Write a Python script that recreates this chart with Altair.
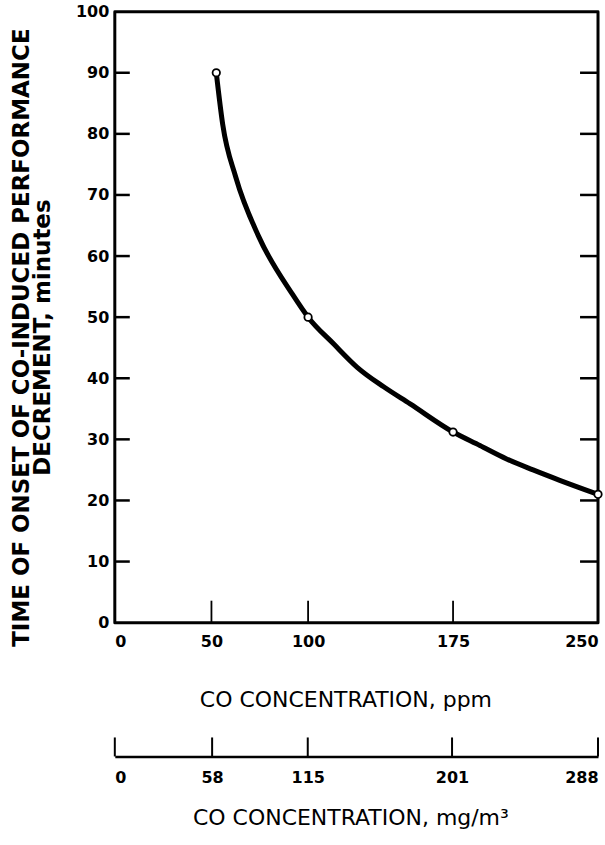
import altair as alt
import pandas as pd

# Measured onset times (minutes) at each CO concentration (ppm)
ppm = [52.5, 100, 175, 250]
onset_minutes = [90, 50, 31.2, 21]

# Smooth fitted curve through the measurements, traced along its length
curve_ppm = [52.5, 55.8, 62.6, 74.6, 91.8, 100, 113.3, 125.4, 139.1, 152.8,
             175, 188.9, 202.7, 216.4, 230.2, 250]
curve_minutes = [90, 81.6, 72.9, 63.1, 53.8, 50, 45.6, 41.8, 38.6, 35.8,
                 31.2, 29.0, 26.8, 25.0, 23.3, 21]

# Axis tick values
ppm_ticks = [0, 50, 100, 175, 250]
minute_ticks = [0, 10, 20, 30, 40, 50, 60, 70, 80, 90, 100]
inner_minute_ticks = [10, 20, 30, 40, 50, 60, 70, 80, 90]
inner_ppm_ticks = [50, 100, 175]
mg_ticks = [0, 58, 115, 201, 288]

W, H = 484, 612
FONT = "DejaVu Sans"

points_df = pd.DataFrame({"ppm": ppm, "minutes": onset_minutes})
curve_df = pd.DataFrame({"ppm": curve_ppm, "minutes": curve_minutes})
ytick_df = pd.DataFrame({"minutes": inner_minute_ticks})
xtick_df = pd.DataFrame({"ppm": inner_ppm_ticks})
mg_df = pd.DataFrame({"mg": mg_ticks})

x_scale = alt.Scale(domain=[0, 250], nice=False, zero=False)
y_scale = alt.Scale(domain=[0, 100], nice=False, zero=False)

x_axis = alt.Axis(
    values=ppm_ticks, title="CO CONCENTRATION, ppm", grid=False, domain=False,
    ticks=False, labelFont=FONT, labelFontSize=16, labelFontWeight="bold",
    labelColor="black", labelPadding=11, labelFlush=True,
    titleFont=FONT, titleFontSize=22, titleFontWeight="normal", titleColor="black",
    titlePadding=40, titleX=231,
)
y_axis = alt.Axis(
    values=minute_ticks,
    title=["TIME OF ONSET OF CO-INDUCED PERFORMANCE", "DECREMENT, minutes"],
    grid=False, domain=False, ticks=False, labelFont=FONT, labelFontSize=16,
    labelFontWeight="bold", labelColor="black", labelPadding=6,
    titleFont=FONT, titleFontSize=23, titleFontWeight="bold", titleColor="black",
    titleLineHeight=21, titlePadding=21, titleY=326,
)

curve = alt.Chart(curve_df).mark_line(
    interpolate="monotone", color="black", strokeWidth=5,
    strokeJoin="round", clip=True,
).encode(
    x=alt.X("ppm:Q", scale=x_scale, axis=x_axis),
    y=alt.Y("minutes:Q", scale=y_scale, axis=y_axis),
)

points = alt.Chart(points_df).mark_circle(
    size=55, fill="white", stroke="black", strokeWidth=1.8, strokeJoin="round",
    opacity=1,
).encode(
    x=alt.X("ppm:Q", scale=x_scale),
    y=alt.Y("minutes:Q", scale=y_scale),
)

# inward ticks on the left and right frame edges
left_ticks = alt.Chart(ytick_df).mark_rule(
    color="black", strokeWidth=2.5, strokeJoin="round"
).encode(y=alt.Y("minutes:Q", scale=y_scale), x=alt.value(0), x2=alt.value(15))
right_ticks = alt.Chart(ytick_df).mark_rule(
    color="black", strokeWidth=2.5, strokeJoin="round"
).encode(y=alt.Y("minutes:Q", scale=y_scale), x=alt.value(W - 18), x2=alt.value(W))
# inward ticks on the bottom edge
bottom_ticks = alt.Chart(xtick_df).mark_rule(
    color="black", strokeWidth=1.8, strokeJoin="round"
).encode(x=alt.X("ppm:Q", scale=x_scale), y=alt.value(H - 22), y2=alt.value(H))

main = alt.layer(curve, left_ticks, right_ticks, bottom_ticks, points).properties(
    width=W, height=H,
    view=alt.ViewBackground(stroke="black", strokeWidth=3, strokeJoin="round"),
)

# secondary concentration scale in mg/m3
mg_chart = alt.Chart(mg_df).mark_rule(
    color="black", strokeWidth=2, strokeJoin="round"
).encode(
    x=alt.X(
        "mg:Q",
        scale=alt.Scale(domain=[0, 288], nice=False, zero=False),
        axis=alt.Axis(
            values=mg_ticks, title="CO CONCENTRATION, mg/m³", grid=False,
            domain=True, domainColor="black", domainWidth=2.5, ticks=False,
            labelFont=FONT, labelFontSize=16, labelFontWeight="bold",
            labelColor="black", labelPadding=13, labelFlush=True,
            titleFont=FONT, titleFontSize=22, titleFontWeight="normal",
            titleColor="black", titlePadding=22, titleX=236,
        ),
    ),
    y=alt.value(0),
    y2=alt.value(19),
).properties(width=W, height=19, view=alt.ViewBackground(strokeWidth=0))

chart = alt.vconcat(main, mg_chart, spacing=115, bounds="flush").properties(
    padding={"left": 9, "top": 1, "right": 0, "bottom": 0},
    background="white",
)

chart.save("out.html", embed_options={"renderer": "svg", "actions": False})
